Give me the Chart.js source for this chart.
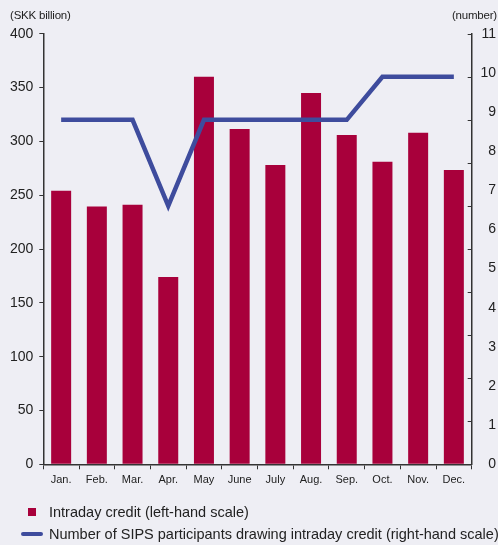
<!DOCTYPE html>
<html>
<head>
<meta charset="utf-8">
<script src="https://cdn.jsdelivr.net/npm/chart.js@4/dist/chart.umd.min.js"></script>
<style>
  html, body { margin: 0; padding: 0; background: #EEEEF4; }
  #wrap { position: relative; width: 498px; height: 545px; background: #EEEEF4; overflow: hidden; }
  canvas { position: absolute; left: 0; top: 0; }
  .t { position: absolute; font-family: "Liberation Sans", Arial, sans-serif; color: #222; white-space: nowrap; letter-spacing: -0.2px; }
  .leg { position: absolute; font-family: "Liberation Sans", Arial, sans-serif; font-size: 14.5px; color: #222; white-space: nowrap; line-height: 16px; }
</style>
</head>
<body>
<div id="wrap">
  <canvas id="c" width="498" height="545"></canvas>
  <div class="t" style="left:10px; top:9px; font-size:11.5px;">(SKK billion)</div>
  <div class="t" style="right:1px; top:9px; font-size:11.5px;">(number)</div>
  <div style="position:absolute; left:28px; top:508px; width:8px; height:8px; background:#A8003B;"></div>
  <div class="leg" style="left:49px; top:504px;">Intraday credit (left-hand scale)</div>
  <div style="position:absolute; left:21px; top:532px; width:22px; height:4px; background:#3E4C9D; border-radius:2px;"></div>
  <div class="leg" style="left:49px; top:526px;">Number of SIPS participants drawing intraday credit (right-hand scale)</div>
</div>
<script>
const months = ['Jan.', 'Feb.', 'Mar.', 'Apr.', 'May', 'June', 'July', 'Aug.', 'Sep.', 'Oct.', 'Nov.', 'Dec.'];
const intradayCredit = [254, 239.5, 241, 174, 360, 311.5, 278, 345, 306, 281, 308, 273.5];
const sipsParticipants = [9, 9, 9, 7, 9, 9, 9, 9, 9, 10, 10, 10];
const leftAxisRange = [0, 400, 50];
const rightLabelRange = [0, 11, 1];
const lineAxisRange = [1, 11, 1];

const axisColor = '#333333';
const numFont = { family: '"Liberation Sans", Arial, sans-serif', size: 14 };

const rightTickMarks = {
  id: 'rightTickMarks',
  afterDraw(chart) {
    const yL = chart.scales.yLine;
    const yR = chart.scales.yR;
    const ctx = chart.ctx;
    ctx.save();
    ctx.strokeStyle = axisColor;
    ctx.lineWidth = 1;
    for (let v = lineAxisRange[0]; v <= lineAxisRange[1]; v += lineAxisRange[2]) {
      const y = Math.round(yL.getPixelForValue(v)) + 0.5;
      ctx.beginPath();
      ctx.moveTo(yR.left - 4, y);
      ctx.lineTo(yR.left, y);
      ctx.stroke();
    }
    ctx.restore();
  }
};

new Chart(document.getElementById('c'), {
  data: {
    labels: months,
    datasets: [
      {
        type: 'line',
        label: 'Number of SIPS participants drawing intraday credit (right-hand scale)',
        data: sipsParticipants,
        yAxisID: 'yLine',
        borderColor: '#3E4C9D',
        borderWidth: 4.5,
        pointRadius: 0,
        tension: 0,
        borderJoinStyle: 'miter',
        order: 0
      },
      {
        type: 'bar',
        label: 'Intraday credit (left-hand scale)',
        data: intradayCredit,
        yAxisID: 'y',
        backgroundColor: '#A8003B',
        barPercentage: 0.56,
        categoryPercentage: 1.0,
        order: 1
      }
    ]
  },
  options: {
    responsive: false,
    animation: false,
    events: [],
    layout: { padding: { left: 0, right: 2, top: 33.7, bottom: 50 } },
    plugins: { legend: { display: false }, tooltip: { enabled: false } },
    scales: {
      x: {
        offset: true,
        grid: { display: true, drawOnChartArea: false, offset: true, tickLength: 5, color: axisColor },
        border: { display: true, color: axisColor, width: 1.5 },
        ticks: { color: '#222', padding: 4, font: { family: '"Liberation Sans", Arial, sans-serif', size: 11 }, maxRotation: 0, autoSkip: false },
        afterFit: s => { s.height = 30.7; }
      },
      y: {
        position: 'left',
        min: leftAxisRange[0], max: leftAxisRange[1],
        ticks: { stepSize: leftAxisRange[2], color: '#222', padding: 6, font: numFont },
        grid: { display: true, drawOnChartArea: false, tickLength: 4, color: axisColor },
        border: { display: true, color: axisColor, width: 1.5 },
        afterFit: s => { s.width = 43.3; }
      },
      yR: {
        position: 'right',
        min: rightLabelRange[0], max: rightLabelRange[1],
        ticks: { stepSize: rightLabelRange[2], color: '#222', crossAlign: 'far', font: numFont },
        grid: { display: false, drawTicks: false },
        border: { display: true, color: axisColor, width: 1.5 },
        afterFit: s => { s.width = 24.3; }
      },
      yLine: {
        position: 'right',
        display: false,
        min: lineAxisRange[0], max: lineAxisRange[1]
      }
    }
  },
  plugins: [rightTickMarks]
});
</script>
</body>
</html>
